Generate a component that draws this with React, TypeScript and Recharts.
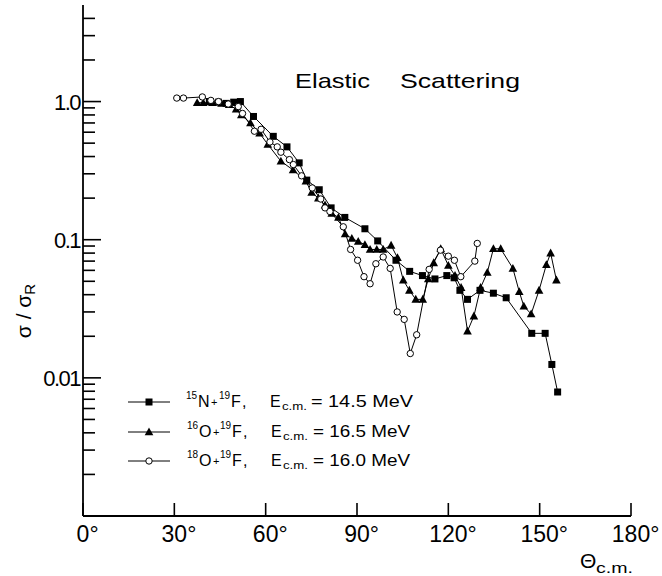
import React from 'react';
import { ComposedChart, Line, XAxis, YAxis } from 'recharts';

// ---- data (angle in degrees c.m., ratio sigma/sigma_R) ----
const n15Angle = [41.5, 44.5, 47, 49.5, 51.7, 56, 62.5, 67, 71, 73.5, 77.6, 81.5, 86, 92.6, 96.8, 102.8, 107.3, 111.5, 115.6, 119.5, 121.9, 123.8, 126.3, 130.4, 134.8, 139, 147.4, 151.8, 154, 155.9];
const n15Ratio = [1.0, 0.99, 0.97, 0.99, 1.0, 0.78, 0.56, 0.47, 0.36, 0.27, 0.23, 0.17, 0.145, 0.12, 0.098, 0.071, 0.059, 0.055, 0.052, 0.055, 0.053, 0.043, 0.037, 0.043, 0.041, 0.038, 0.021, 0.021, 0.0125, 0.0079];

const o16Angle = [37.5, 39.5, 42.5, 45.5, 48, 50.3, 52, 55, 58, 60.7, 65, 69, 73.2, 75.1, 77.3, 79.5, 81.7, 83.9, 86.1, 88.3, 90.4, 92.6, 94.3, 96.5, 98.6, 101.2, 103.3, 105.2, 107.2, 109.3, 111.6, 113.4, 115.2, 117.5, 120, 122.2, 124.2, 126.3, 128.4, 130.6, 132.8, 134.8, 137.2, 141.2, 143.3, 144.8, 147.2, 149.8, 152.2, 153.6, 155.5];
const o16Ratio = [0.98, 0.98, 0.98, 0.97, 0.95, 0.88, 0.8, 0.7, 0.59, 0.49, 0.37, 0.32, 0.265, 0.22, 0.2, 0.178, 0.155, 0.145, 0.11, 0.102, 0.097, 0.092, 0.085, 0.085, 0.085, 0.091, 0.074, 0.051, 0.043, 0.037, 0.037, 0.052, 0.068, 0.086, 0.065, 0.055, 0.045, 0.0218, 0.028, 0.045, 0.058, 0.086, 0.086, 0.062, 0.042, 0.033, 0.029, 0.043, 0.066, 0.08, 0.051];

const o18Angle = [30.8, 33, 39.2, 42, 44.5, 47.7, 51, 52.4, 56.3, 58.5, 61.4, 63.8, 65, 67.8, 69.1, 71.8, 75.3, 78.1, 79.5, 81.1, 85.5, 87.9, 90.2, 92.3, 94.3, 96.2, 98.6, 100.9, 103.2, 105.5, 107.5, 109.6, 113.7, 117.4, 120, 122, 124.1, 128.7, 129.5];
const o18Ratio = [1.06, 1.06, 1.08, 1.02, 1.0, 0.96, 0.92, 0.82, 0.61, 0.63, 0.51, 0.47, 0.43, 0.38, 0.35, 0.29, 0.237, 0.197, 0.17, 0.16, 0.124, 0.085, 0.071, 0.054, 0.048, 0.067, 0.075, 0.062, 0.03, 0.0265, 0.015, 0.0205, 0.061, 0.084, 0.076, 0.071, 0.054, 0.07, 0.094];

const xTicks = [0, 30, 60, 90, 120, 150, 180];
const xTickLabels = ['0', '30', '60', '90', '120', '150', '180'];
const yTicks = [
  0.002, 0.003, 0.004, 0.005, 0.006, 0.007, 0.008, 0.009, 0.01,
  0.02, 0.03, 0.04, 0.05, 0.06, 0.07, 0.08, 0.09, 0.1,
  0.2, 0.3, 0.4, 0.5, 0.6, 0.7, 0.8, 0.9, 1,
  2, 3, 4,
];
const yMajorTicks = [0.01, 0.1, 1];
const yMajorLabels = ['0.01', '0.1', '1.0'];

const legendRows = [
  { a: '15', el: 'N', e: '14.5' },
  { a: '16', el: 'O', e: '16.5' },
  { a: '18', el: 'O', e: '16.0' },
];

const toData = (xs: number[], ys: number[]) => xs.map((x, i) => ({ x, y: ys[i] }));
const n15Data = toData(n15Angle, n15Ratio);
const o16Data = toData(o16Angle, o16Ratio);
const o18Data = toData(o18Angle, o18Ratio);

const FONT = "'Liberation Sans', Arial, sans-serif";

const isMajor = (v: number) => yMajorTicks.some((m) => Math.abs(m - v) / m < 1e-6);

const LeftTick = (p: any) => {
  const { x, y, payload } = p;
  const v = payload.value;
  const major = isMajor(v);
  const idx = yMajorTicks.findIndex((m) => Math.abs(m - v) / m < 1e-6);
  return (
    <g>
      <line x1={x} x2={x + (major ? 18 : 12)} y1={y} y2={y} stroke="#000" strokeWidth={1.6} />
      {idx >= 0 && (
        <text x={x - 3} y={y + 8} textAnchor="end" fontFamily={FONT} fontSize={22} letterSpacing={-1.5} fill="#000">
          {yMajorLabels[idx]}
        </text>
      )}
    </g>
  );
};

const RightTick = (p: any) => {
  const { x, y, payload } = p;
  const major = isMajor(payload.value);
  return <line x1={x} x2={x - (major ? 20 : 12)} y1={y} y2={y} stroke="#000" strokeWidth={1.6} />;
};

const BottomTick = (p: any) => {
  const { x, y, payload } = p;
  const idx = xTicks.indexOf(payload.value);
  const lab = xTickLabels[idx] ?? String(payload.value);
  return (
    <g>
      <line x1={x} x2={x} y1={y} y2={y - 13} stroke="#000" strokeWidth={1.6} />
      <text x={x} y={y + 26} textAnchor="middle" fontFamily={FONT} fontSize={23} fill="#000">
        {lab}
      </text>
      <text x={x + lab.length * 6.4} y={y + 26} textAnchor="start" fontFamily={FONT} fontSize={23} fill="#000">
        °
      </text>
    </g>
  );
};

const SquareDot = (p: any) => {
  const { cx, cy, index } = p;
  if (cx == null || cy == null) return <g key={`s${index}`} />;
  return <rect key={`s${index}`} x={cx - 3.5} y={cy - 3.5} width={7} height={7} fill="#000" />;
};
const TriDot = (p: any) => {
  const { cx, cy, index } = p;
  if (cx == null || cy == null) return <g key={`t${index}`} />;
  return <polygon key={`t${index}`} points={`${cx},${cy - 4.5} ${cx - 4.3},${cy + 3.3} ${cx + 4.3},${cy + 3.3}`} fill="#000" />;
};
const CircDot = (p: any) => {
  const { cx, cy, index } = p;
  if (cx == null || cy == null) return <g key={`c${index}`} />;
  return <circle key={`c${index}`} cx={cx} cy={cy} r={3.2} fill="#fff" stroke="#000" strokeWidth={1} />;
};

const Overlay = () => {
  const rowsY = [402, 432, 461];
  return (
    <svg width={662} height={576} style={{ position: 'absolute', left: 0, top: 0, pointerEvents: 'none' }}>
      {/* title */}
      <text x={295} y={88} fontFamily={FONT} fontSize={21} textLength={75} lengthAdjust="spacingAndGlyphs" fill="#000">Elastic</text>
      <text x={400} y={88} fontFamily={FONT} fontSize={21} textLength={120} lengthAdjust="spacingAndGlyphs" fill="#000">Scattering</text>
      {/* y label */}
      <text transform="translate(31,311) rotate(-90)" textAnchor="middle" fontFamily={FONT} fontSize={21} fill="#000">
        σ / σ<tspan fontSize={15} dy={4}>R</tspan>
      </text>
      {/* x label */}
      <text x={580} y={568} fontFamily={FONT} fontSize={21} fill="#000">Θ</text>
      <text x={596} y={573} fontFamily={FONT} fontSize={15} textLength={37} lengthAdjust="spacingAndGlyphs" fill="#000">c.m.</text>
      {/* legend */}
      {legendRows.map((r, i) => {
        const y = rowsY[i];
        const b = y + 5;
        const o = r.el === 'N' ? 0 : 1;
        return (
          <g key={i}>
            <line x1={128} x2={170} y1={y} y2={y} stroke="#000" strokeWidth={1} />
            {i === 0 && <rect x={145.5} y={y - 3.5} width={7} height={7} fill="#000" />}
            {i === 1 && <polygon points={`149,${y - 4.5} ${144.7},${y + 3.3} ${153.3},${y + 3.3}`} fill="#000" />}
            {i === 2 && <circle cx={149} cy={y} r={3.2} fill="#fff" stroke="#000" strokeWidth={1} />}
            <text x={186 + o} y={b - 8} fontFamily={FONT} fontSize={10} fill="#000">{r.a}</text>
            <text x={198 + o} y={b} fontFamily={FONT} fontSize={16} fill="#000">{r.el}</text>
            <text x={211 + 2 * o} y={b - 1} fontFamily={FONT} fontSize={11} fill="#000">+</text>
            <text x={219 + o} y={b - 8} fontFamily={FONT} fontSize={10} fill="#000">19</text>
            <text x={231 + o} y={b} fontFamily={FONT} fontSize={16} fill="#000">F</text>
            <text x={242 + o} y={b} fontFamily={FONT} fontSize={16} fill="#000">,</text>
            <text x={270 + o} y={b} fontFamily={FONT} fontSize={16} fill="#000">E</text>
            <text x={282 + o} y={b + 3} fontFamily={FONT} fontSize={11} textLength={25} lengthAdjust="spacingAndGlyphs" fill="#000">c.m.</text>
            <text x={311 + 2 * o} y={b} fontFamily={FONT} fontSize={16} textLength={i === 0 ? 102 : 97} lengthAdjust="spacingAndGlyphs" fill="#000">
              {`= ${r.e} MeV`}
            </text>
          </g>
        );
      })}
    </svg>
  );
}

export default function App() {
  return (
    <div style={{ position: 'absolute', left: 0, top: 0, width: 662, height: 576, background: '#fff' }}>
      <ComposedChart width={662} height={576} margin={{ top: 5, right: 31, bottom: 0, left: 0 }}>
        <XAxis
          dataKey="x"
          type="number"
          domain={[0, 180]}
          ticks={xTicks}
          interval={0}
          height={60}
          tickSize={0}
          tickMargin={0}
          tick={<BottomTick />}
          axisLine={{ stroke: '#000', strokeWidth: 1.8 }}
          allowDataOverflow
        />
        <XAxis
          xAxisId="top"
          orientation="top"
          dataKey="x"
          type="number"
          domain={[0, 180]}
          height={0}
          tick={false}
          tickLine={false}
          axisLine={{ stroke: '#000', strokeWidth: 1.8 }}
          allowDataOverflow
        />
        <YAxis
          type="number"
          scale="log"
          domain={[0.001, 5]}
          allowDataOverflow
          ticks={yTicks}
          interval={0}
          width={83}
          tickSize={0}
          tickMargin={0}
          tick={<LeftTick />}
          axisLine={{ stroke: '#000', strokeWidth: 1.8 }}
        />
        <YAxis
          yAxisId="r"
          orientation="right"
          type="number"
          scale="log"
          domain={[0.001, 5]}
          allowDataOverflow
          ticks={yTicks}
          interval={0}
          width={0}
          tickSize={0}
          tickMargin={0}
          tick={<RightTick />}
          axisLine={{ stroke: '#000', strokeWidth: 1.8 }}
        />
        <Line data={n15Data} dataKey="y" type="linear" stroke="#000" strokeWidth={1} dot={SquareDot} isAnimationActive={false} />
        <Line data={o16Data} dataKey="y" type="linear" stroke="#000" strokeWidth={1} dot={TriDot} isAnimationActive={false} />
        <Line data={o18Data} dataKey="y" type="linear" stroke="#000" strokeWidth={1} dot={CircDot} isAnimationActive={false} />
      </ComposedChart>
      <Overlay />
    </div>
  );
}
